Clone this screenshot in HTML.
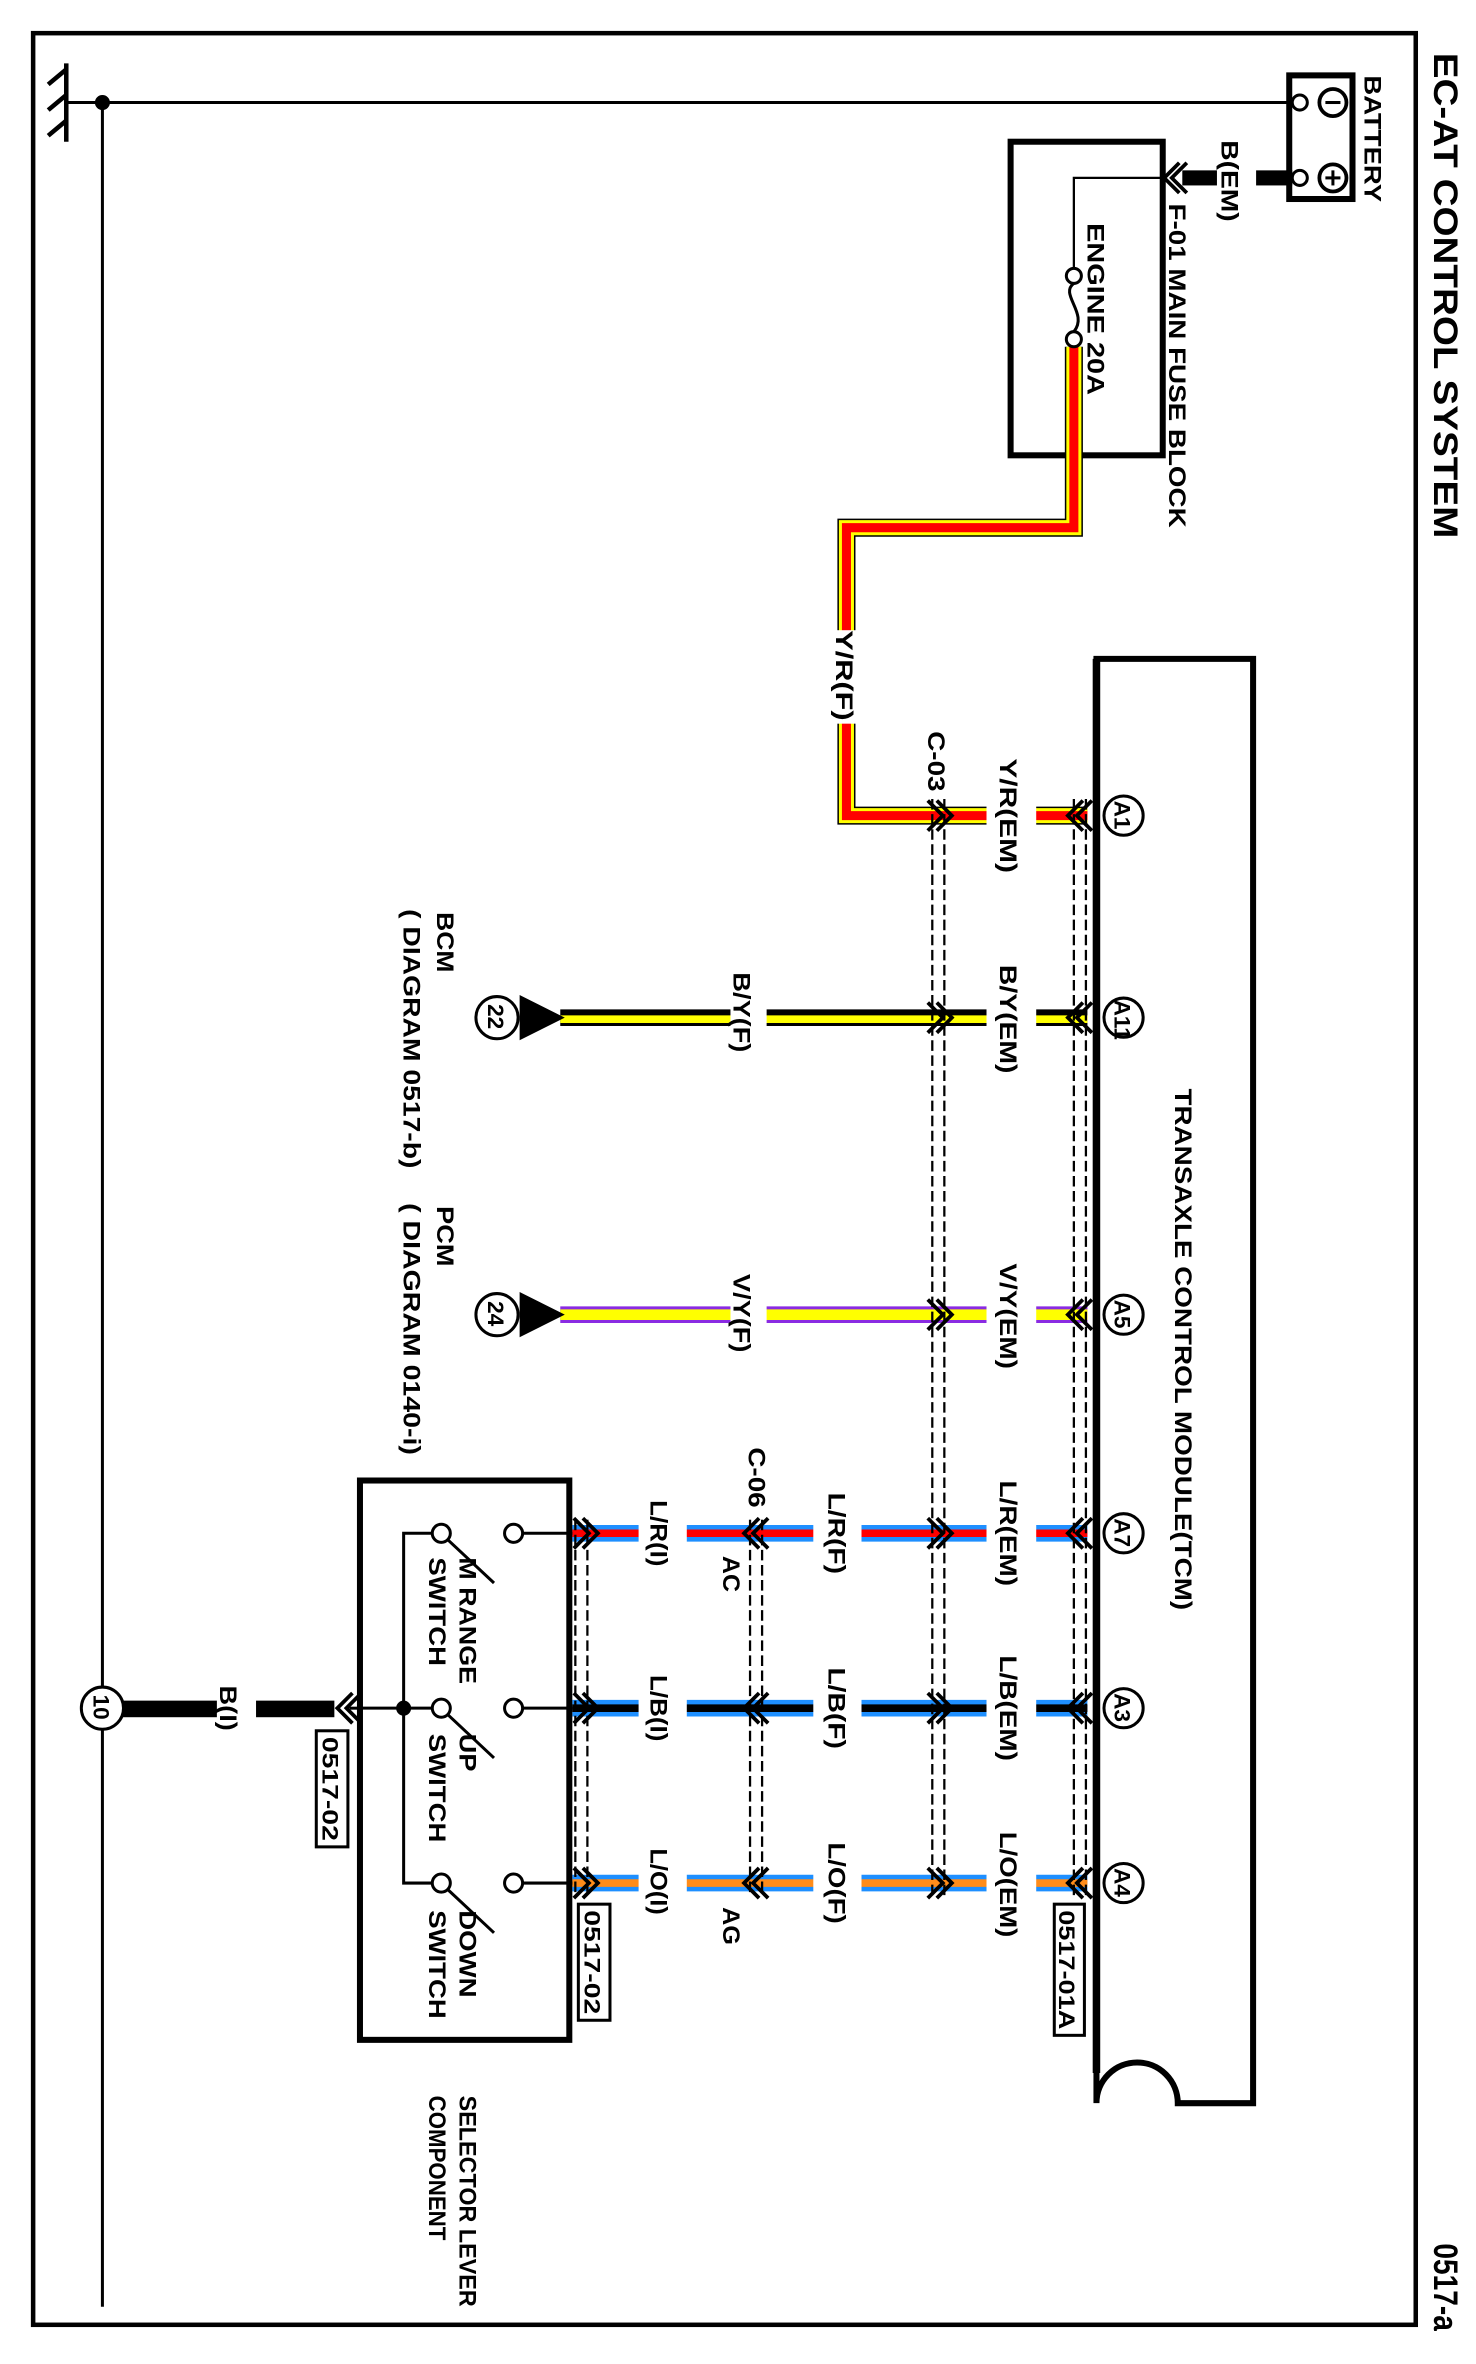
<!DOCTYPE html>
<html><head><meta charset="utf-8"><style>
html,body{margin:0;padding:0;background:#fff;}
svg{display:block;}
text{font-family:"Liberation Sans",Arial,sans-serif;font-weight:bold;fill:#000;}
</style></head><body>
<svg width="1476" height="2364" viewBox="0 0 980 1568" preserveAspectRatio="none" xmlns="http://www.w3.org/2000/svg">
<rect x="0" y="0" width="980" height="1568" fill="#fff"/>
<rect x="22" y="22" width="918" height="1520" fill="none" stroke="#000" stroke-width="3"/>
<text transform="translate(952,35) rotate(90)" font-size="23" font-weight="normal" textLength="322" lengthAdjust="spacingAndGlyphs">EC-AT CONTROL SYSTEM</text>
<text transform="translate(952,1488) rotate(90)" font-size="23" font-weight="normal" textLength="58" lengthAdjust="spacingAndGlyphs">0517-a</text>

<line x1="68" y1="68" x2="68" y2="1530" stroke="#000" stroke-width="2"/>
<line x1="44" y1="68" x2="855" y2="68" stroke="#000" stroke-width="2"/>
<line x1="44" y1="42" x2="44" y2="94" stroke="#000" stroke-width="3"/>
<line x1="44" y1="46" x2="32" y2="56" stroke="#000" stroke-width="3"/>
<line x1="44" y1="63" x2="32" y2="73" stroke="#000" stroke-width="3"/>
<line x1="44" y1="80" x2="32" y2="90" stroke="#000" stroke-width="3"/>
<circle cx="68" cy="68" r="5" fill="#000"/>

<rect x="856" y="50" width="42" height="82" fill="#fff" stroke="#000" stroke-width="4"/>
<circle cx="863" cy="68" r="5" fill="#fff" stroke="#000" stroke-width="2"/>
<circle cx="863" cy="118" r="5" fill="#fff" stroke="#000" stroke-width="2"/>
<circle cx="885" cy="68" r="9" fill="#fff" stroke="#000" stroke-width="2.5"/>
<line x1="880" y1="68" x2="890" y2="68" stroke="#000" stroke-width="2"/>
<circle cx="885" cy="118" r="9" fill="#fff" stroke="#000" stroke-width="2.5"/>
<line x1="880" y1="118" x2="890" y2="118" stroke="#000" stroke-width="2"/>
<line x1="885" y1="113" x2="885" y2="123" stroke="#000" stroke-width="2"/>
<text transform="translate(906,50) rotate(90)" font-size="16" textLength="84" lengthAdjust="spacingAndGlyphs">BATTERY</text>
<rect x="834" y="113" width="24" height="10" fill="#000"/>
<rect x="785" y="113" width="23" height="10" fill="#000"/>
<text transform="translate(811,93) rotate(90)" font-size="16" textLength="54" lengthAdjust="spacingAndGlyphs">B(EM)</text>
<path d="M788,108 L778,118 L788,128 M783,108 L773,118 L783,128" fill="none" stroke="#000" stroke-width="2.5"/>

<rect x="671" y="94" width="101" height="208" fill="none" stroke="#000" stroke-width="4"/>
<path d="M772,118 H713 V178" fill="none" stroke="#000" stroke-width="1.5"/>
<circle cx="713" cy="183" r="5" fill="#fff" stroke="#000" stroke-width="2"/>
<path d="M713,188 C703,195 723,208 713,220" fill="none" stroke="#000" stroke-width="2"/>
<text transform="translate(722,148) rotate(90)" font-size="16" textLength="114" lengthAdjust="spacingAndGlyphs">ENGINE 20A</text>
<text transform="translate(776,135) rotate(90)" font-size="16" textLength="215" lengthAdjust="spacingAndGlyphs">F-01 MAIN FUSE BLOCK</text>

<path d="M713,230 V350 H562 V541 H722" fill="none" stroke="#000" stroke-width="12"/>
<path d="M713,230 V350 H562 V541 H722" fill="none" stroke="#ffff00" stroke-width="10"/>
<path d="M713,230 V350 H562 V541 H722" fill="none" stroke="#ff0000" stroke-width="6"/>
<circle cx="713" cy="225" r="5" fill="#fff" stroke="#000" stroke-width="2"/>
<rect x="552" y="418" width="20" height="62" fill="#fff"/>
<text transform="translate(555,418) rotate(90)" font-size="16" textLength="60" lengthAdjust="spacingAndGlyphs">Y/R(F)</text>

<line x1="372" y1="675" x2="722" y2="675" stroke="#000" stroke-width="11"/>
<line x1="372" y1="676" x2="722" y2="676" stroke="#ffff00" stroke-width="5"/>
<line x1="372" y1="872" x2="722" y2="872" stroke="#8a2be2" stroke-width="11"/>
<line x1="372" y1="872" x2="722" y2="872" stroke="#ffff00" stroke-width="7"/>
<line x1="380" y1="1017" x2="722" y2="1017" stroke="#1e8fff" stroke-width="11"/>
<line x1="380" y1="1017" x2="722" y2="1017" stroke="#ff0000" stroke-width="5"/>
<line x1="380" y1="1133" x2="722" y2="1133" stroke="#1e8fff" stroke-width="11"/>
<line x1="380" y1="1133" x2="722" y2="1133" stroke="#000" stroke-width="5"/>
<line x1="380" y1="1249" x2="722" y2="1249" stroke="#1e8fff" stroke-width="11"/>
<line x1="380" y1="1249" x2="722" y2="1249" stroke="#ff8c1a" stroke-width="5"/>
<g fill="#fff">
<rect x="655" y="530" width="33" height="22"/>
<rect x="655" y="660" width="33" height="30"/>
<rect x="655" y="860" width="33" height="25"/>
<rect x="655" y="1005" width="33" height="25"/>
<rect x="655" y="1120" width="33" height="25"/>
<rect x="655" y="1237" width="33" height="25"/>
<rect x="540" y="1005" width="32" height="25"/>
<rect x="540" y="1120" width="32" height="25"/>
<rect x="540" y="1237" width="32" height="25"/>
<rect x="485" y="660" width="24" height="30"/>
<rect x="485" y="860" width="24" height="25"/>
<rect x="424" y="1005" width="32" height="25"/>
<rect x="424" y="1120" width="32" height="25"/>
<rect x="424" y="1237" width="32" height="25"/>
</g>
<g font-size="16">
<text transform="translate(664,503) rotate(90)" textLength="76" lengthAdjust="spacingAndGlyphs">Y/R(EM)</text>
<text transform="translate(616,485) rotate(90)" textLength="40" lengthAdjust="spacingAndGlyphs">C-03</text>
<text transform="translate(664,640) rotate(90)" textLength="72" lengthAdjust="spacingAndGlyphs">B/Y(EM)</text>
<text transform="translate(664,838) rotate(90)" textLength="70" lengthAdjust="spacingAndGlyphs">V/Y(EM)</text>
<text transform="translate(664,982) rotate(90)" textLength="70" lengthAdjust="spacingAndGlyphs">L/R(EM)</text>
<text transform="translate(664,1098) rotate(90)" textLength="70" lengthAdjust="spacingAndGlyphs">L/B(EM)</text>
<text transform="translate(664,1215) rotate(90)" textLength="70" lengthAdjust="spacingAndGlyphs">L/O(EM)</text>
<text transform="translate(550,990) rotate(90)" textLength="54" lengthAdjust="spacingAndGlyphs">L/R(F)</text>
<text transform="translate(550,1106) rotate(90)" textLength="54" lengthAdjust="spacingAndGlyphs">L/B(F)</text>
<text transform="translate(550,1222) rotate(90)" textLength="54" lengthAdjust="spacingAndGlyphs">L/O(F)</text>
<text transform="translate(487,645) rotate(90)" textLength="53" lengthAdjust="spacingAndGlyphs">B/Y(F)</text>
<text transform="translate(487,845) rotate(90)" textLength="52" lengthAdjust="spacingAndGlyphs">V/Y(F)</text>
<text transform="translate(432,995) rotate(90)" textLength="44" lengthAdjust="spacingAndGlyphs">L/R(I)</text>
<text transform="translate(432,1111) rotate(90)" textLength="44" lengthAdjust="spacingAndGlyphs">L/B(I)</text>
<text transform="translate(432,1226) rotate(90)" textLength="44" lengthAdjust="spacingAndGlyphs">L/O(I)</text>
<text transform="translate(497,960) rotate(90)" textLength="40" lengthAdjust="spacingAndGlyphs">C-06</text>
<text transform="translate(480,1032) rotate(90)" textLength="24" lengthAdjust="spacingAndGlyphs">AC</text>
<text transform="translate(480,1265) rotate(90)" textLength="25" lengthAdjust="spacingAndGlyphs">AG</text>
<text transform="translate(290,605) rotate(90)" textLength="40" lengthAdjust="spacingAndGlyphs">BCM</text>
<text transform="translate(268,603) rotate(90)" textLength="172" lengthAdjust="spacingAndGlyphs">( DIAGRAM 0517-b)</text>
<text transform="translate(290,800) rotate(90)" textLength="40" lengthAdjust="spacingAndGlyphs">PCM</text>
<text transform="translate(268,798) rotate(90)" textLength="167" lengthAdjust="spacingAndGlyphs">( DIAGRAM 0140-i)</text>
<text transform="translate(780,722) rotate(90)" textLength="346" lengthAdjust="spacingAndGlyphs">TRANSAXLE CONTROL MODULE(TCM)</text>
<text transform="translate(305,1033) rotate(90)" textLength="84" lengthAdjust="spacingAndGlyphs">M RANGE</text>
<text transform="translate(285,1033) rotate(90)" textLength="72" lengthAdjust="spacingAndGlyphs">SWITCH</text>
<text transform="translate(305,1150) rotate(90)" textLength="25" lengthAdjust="spacingAndGlyphs">UP</text>
<text transform="translate(285,1150) rotate(90)" textLength="72" lengthAdjust="spacingAndGlyphs">SWITCH</text>
<text transform="translate(305,1267) rotate(90)" textLength="58" lengthAdjust="spacingAndGlyphs">DOWN</text>
<text transform="translate(285,1267) rotate(90)" textLength="72" lengthAdjust="spacingAndGlyphs">SWITCH</text>
<text transform="translate(305,1390) rotate(90)" textLength="140" lengthAdjust="spacingAndGlyphs">SELECTOR LEVER</text>
<text transform="translate(285,1390) rotate(90)" textLength="96" lengthAdjust="spacingAndGlyphs">COMPONENT</text>
<text transform="translate(146,1118) rotate(90)" textLength="30" lengthAdjust="spacingAndGlyphs">B(I)</text>
</g>

<g stroke="#000" stroke-width="1.5" stroke-dasharray="7,3" fill="none">
<line x1="713" y1="530" x2="713" y2="1258"/><line x1="721" y1="530" x2="721" y2="1258"/>
<line x1="619" y1="530" x2="619" y2="1258"/><line x1="627" y1="530" x2="627" y2="1258"/>
<line x1="498" y1="1008" x2="498" y2="1258"/><line x1="506" y1="1008" x2="506" y2="1258"/>
<line x1="382" y1="1008" x2="382" y2="1258"/><line x1="390" y1="1008" x2="390" y2="1258"/>
</g>
<g fill="none" stroke="#000" stroke-width="2.5">
<path d="M719,531 L709,541 L719,551 M725,531 L715,541 L725,551"/>
<path d="M719,665 L709,675 L719,685 M725,665 L715,675 L725,685"/>
<path d="M719,862 L709,872 L719,882 M725,862 L715,872 L725,882"/>
<path d="M719,1007 L709,1017 L719,1027 M725,1007 L715,1017 L725,1027"/>
<path d="M719,1123 L709,1133 L719,1143 M725,1123 L715,1133 L725,1143"/>
<path d="M719,1239 L709,1249 L719,1259 M725,1239 L715,1249 L725,1259"/>
<path d="M616,531 L626,541 L616,551 M622,531 L632,541 L622,551"/>
<path d="M616,665 L626,675 L616,685 M622,665 L632,675 L622,685"/>
<path d="M616,862 L626,872 L616,882 M622,862 L632,872 L622,882"/>
<path d="M616,1007 L626,1017 L616,1027 M622,1007 L632,1017 L622,1027"/>
<path d="M616,1123 L626,1133 L616,1143 M622,1123 L632,1133 L622,1143"/>
<path d="M616,1239 L626,1249 L616,1259 M622,1239 L632,1249 L622,1259"/>
<path d="M504,1007 L494,1017 L504,1027 M510,1007 L500,1017 L510,1027"/>
<path d="M504,1123 L494,1133 L504,1143 M510,1123 L500,1133 L510,1143"/>
<path d="M504,1239 L494,1249 L504,1259 M510,1239 L500,1249 L510,1259"/>
<path d="M381,1007 L391,1017 L381,1027 M387,1007 L397,1017 L387,1027"/>
<path d="M381,1123 L391,1133 L381,1143 M387,1123 L397,1133 L387,1143"/>
<path d="M381,1239 L391,1249 L381,1259 M387,1239 L397,1249 L387,1259"/>
<path d="M234,1123 L224,1133 L234,1143 M240,1123 L230,1133 L240,1143"/>
</g>

<path d="M728,437 H832 V1395 H782 A27,27 0 0 0 728,1395 Z" fill="none" stroke="#000" stroke-width="4"/>
<line x1="728" y1="437" x2="728" y2="1375" stroke="#000" stroke-width="5"/>
<g fill="#fff" stroke="#000" stroke-width="2">
<circle cx="746" cy="541" r="13"/><circle cx="746" cy="675" r="13"/><circle cx="746" cy="872" r="13"/>
<circle cx="746" cy="1017" r="13"/><circle cx="746" cy="1133" r="13"/><circle cx="746" cy="1249" r="13"/>
</g>
<g font-size="15" font-weight="normal">
<text transform="translate(740,531) rotate(90)">A1</text>
<text transform="translate(740,663) rotate(90)">A11</text>
<text transform="translate(740,862) rotate(90)">A5</text>
<text transform="translate(740,1007) rotate(90)">A7</text>
<text transform="translate(740,1123) rotate(90)">A3</text>
<text transform="translate(740,1239) rotate(90)">A4</text>
</g>
<rect x="700" y="1263" width="20" height="87" fill="#fff" stroke="#000" stroke-width="2"/>
<text transform="translate(703,1267) rotate(90)" font-size="15" textLength="79" lengthAdjust="spacingAndGlyphs">0517-01A</text>
<rect x="384" y="1263" width="21" height="77" fill="#fff" stroke="#000" stroke-width="2"/>
<text transform="translate(388,1267) rotate(90)" font-size="15" textLength="69" lengthAdjust="spacingAndGlyphs">0517-02</text>
<rect x="210" y="1148" width="21" height="77" fill="#fff" stroke="#000" stroke-width="2"/>
<text transform="translate(214,1152) rotate(90)" font-size="15" textLength="69" lengthAdjust="spacingAndGlyphs">0517-02</text>

<polygon points="345,660 345,690 375,675" fill="#000"/>
<polygon points="345,857 345,887 375,872" fill="#000"/>
<circle cx="330" cy="675" r="14" fill="#fff" stroke="#000" stroke-width="2"/>
<circle cx="330" cy="872" r="14" fill="#fff" stroke="#000" stroke-width="2"/>
<text transform="translate(324,666) rotate(90)" font-size="15" font-weight="normal">22</text>
<text transform="translate(324,863) rotate(90)" font-size="15" font-weight="normal">24</text>

<rect x="239" y="982" width="139" height="371" fill="none" stroke="#000" stroke-width="4"/>
<g stroke="#000" stroke-width="2" fill="none">
<line x1="346" y1="1017" x2="380" y2="1017"/><line x1="346" y1="1133" x2="380" y2="1133"/><line x1="346" y1="1249" x2="380" y2="1249"/>
<path d="M288,1017 H268 V1249 H288"/><line x1="239" y1="1133" x2="288" y2="1133"/>
<line x1="297" y1="1021" x2="328" y2="1050"/><line x1="297" y1="1137" x2="328" y2="1166"/><line x1="297" y1="1253" x2="328" y2="1282"/>
</g>
<g fill="#fff" stroke="#000" stroke-width="2">
<circle cx="341" cy="1017" r="6"/><circle cx="341" cy="1133" r="6"/><circle cx="341" cy="1249" r="6"/>
<circle cx="293" cy="1017" r="6"/><circle cx="293" cy="1133" r="6"/><circle cx="293" cy="1249" r="6"/>
</g>
<circle cx="268" cy="1133" r="5" fill="#000"/>
<line x1="232" y1="1133" x2="239" y2="1133" stroke="#000" stroke-width="2"/>
<rect x="170" y="1128" width="52" height="11" fill="#000"/>
<rect x="80" y="1128" width="64" height="11" fill="#000"/>
<circle cx="68" cy="1133" r="14" fill="#fff" stroke="#000" stroke-width="2"/>
<text transform="translate(62,1124) rotate(90)" font-size="15" font-weight="normal">10</text>
</svg>
</body></html>
